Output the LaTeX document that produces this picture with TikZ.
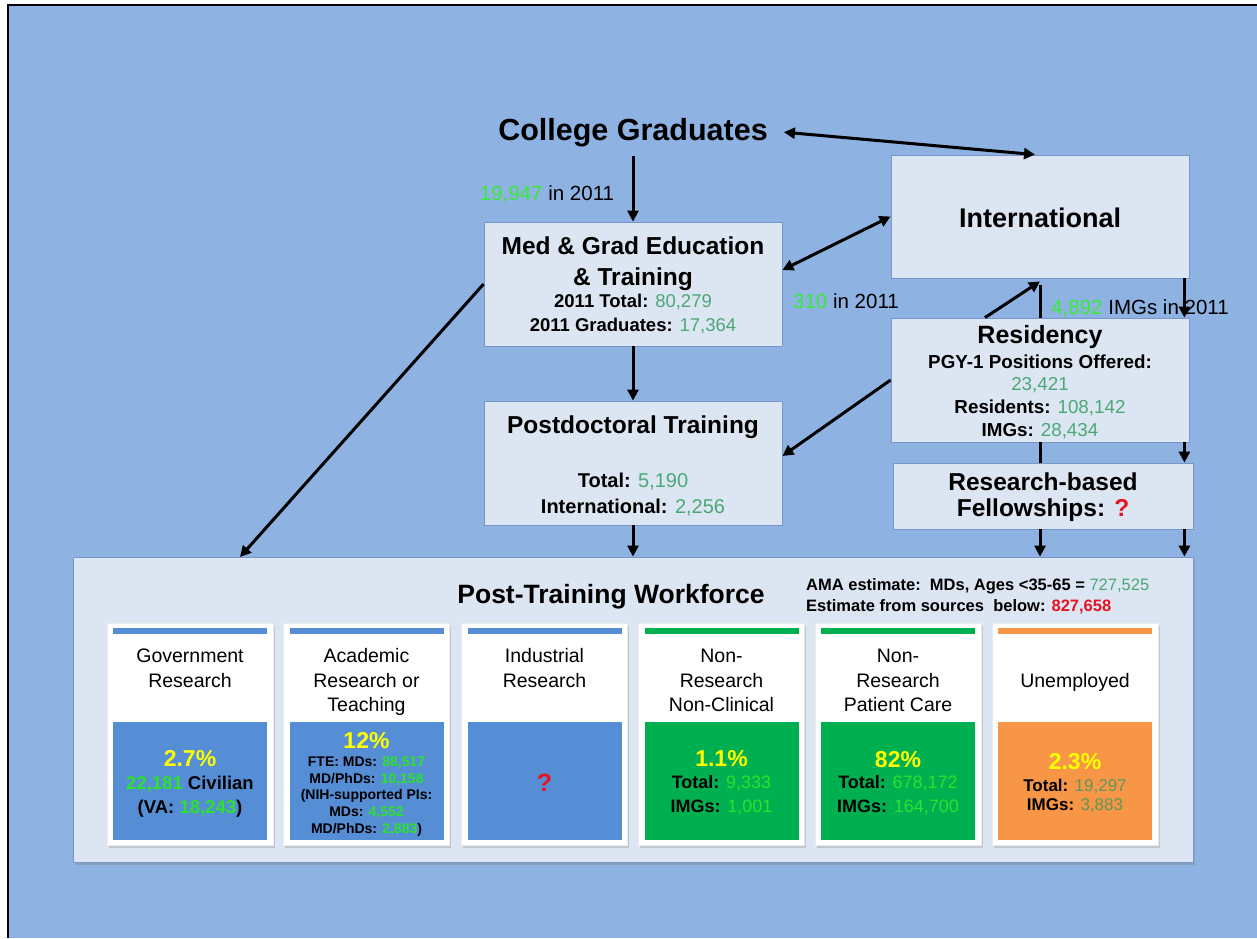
\documentclass[tikz,border=0pt]{standalone}
\usepackage{fontspec}
\setmainfont{Liberation Sans}
\usetikzlibrary{arrows.meta,shadows,calc}
\definecolor{bgblue}{RGB}{142,178,225}
\definecolor{boxfill}{RGB}{220,230,242}
\definecolor{boxline}{RGB}{120,150,200}
\definecolor{numteal}{RGB}{75,168,118}
\definecolor{brgreen}{RGB}{55,235,55}
\definecolor{blkgreen}{RGB}{45,225,45}
\definecolor{redq}{RGB}{228,20,35}
\definecolor{yell}{RGB}{255,255,0}
\definecolor{cardblue}{RGB}{85,142,213}
\definecolor{cardgreen}{RGB}{0,176,80}
\definecolor{cardorange}{RGB}{247,150,70}
\definecolor{mutegreen}{RGB}{95,150,90}
\newcommand\fsz[1]{\fontsize{#1}{#1}\selectfont}
\begin{document}
\begin{tikzpicture}[x=1pt,y=-1pt,
  box/.style={draw=boxline, fill=boxfill, line width=0.8pt, inner sep=0pt},
  arr/.style={line width=3pt, -{Triangle[length=11pt,width=11pt]}},
  darr/.style={line width=3pt, {Triangle[length=11pt,width=11pt]}-{Triangle[length=11pt,width=11pt]}},
  plainline/.style={line width=3pt},
  txt/.style={anchor=base, inner sep=0pt, text=black},
  cardbox/.style={fill=white, draw=black!8, line width=0.5pt, minimum width=166pt, minimum height=222pt, inner sep=0pt,
    drop shadow={shadow xshift=1.5pt, shadow yshift=-2.5pt, opacity=0.3}},
  bar/.style={minimum width=154pt, minimum height=6pt, inner sep=0pt},
  block/.style={minimum width=154pt, minimum height=118pt, inner sep=0pt},
]
\useasboundingbox (0,0) rectangle (1257,938);
\fill[white] (0,0) rectangle (1257,938);
\fill[bgblue] (8,5) rectangle (1257,938);
\draw[line width=2.5pt] (8,938) -- (8,5) -- (1257,5);

% main boxes
\node[box, minimum width=298pt, minimum height=124pt] (med) at (633,284) {};
\node[box, minimum width=298pt, minimum height=123pt] (intl) at (1040,216.5) {};
\node[box, minimum width=298pt, minimum height=124pt] (res) at (1040,380) {};
\node[box, minimum width=298pt, minimum height=124pt] (pd) at (633,463) {};
\node[box, minimum width=300pt, minimum height=66pt] (fel) at (1043,496) {};
\node[box, minimum width=1120pt, minimum height=305pt,
  drop shadow={shadow xshift=2pt, shadow yshift=-3pt, opacity=0.35}] (ptw) at (633,709.5) {};

% texts
\node[txt, font=\bfseries\fsz{30.5}, inner xsep=16pt, inner ysep=9pt] (colg) at (633,140) {College Graduates};
\node[txt, font=\fsz{20.5}] (lbl1) at (547,200) {{\color{brgreen}19,947} in 2011};
\node[txt, font=\fsz{20.5}] (lbl2) at (846,308) {{\color{brgreen}310} in 2011};
\node[txt, font=\fsz{20.5}] (lbl3) at (1140,314) {{\color{brgreen}4,892} IMGs in 2011};

\node[txt, font=\bfseries\fsz{24.5}] (medt1) at (633,254) {Med \& Grad Education};
\node[txt, font=\bfseries\fsz{24.5}] (medt2) at (633,285) {\& Training};
\node[txt, font=\bfseries\fsz{18.5}] (medt3) at (633,307) {2011 Total: {\mdseries\color{numteal}80,279}};
\node[txt, font=\bfseries\fsz{18.5}] (medt4) at (633,331) {2011 Graduates: {\mdseries\color{numteal}17,364}};

\node[txt, font=\bfseries\fsz{27}] (intlt) at (1040,227) {International};

\node[txt, font=\bfseries\fsz{25}] (rest1) at (1040,343) {Residency};
\node[txt, font=\bfseries\fsz{18.8}] (rest2) at (1040,368) {PGY-1 Positions Offered:};
\node[txt, font=\fsz{18.8}, text=numteal] (rest3) at (1040,390) {23,421};
\node[txt, font=\bfseries\fsz{18.8}] (rest4) at (1040,413) {Residents: {\mdseries\color{numteal}108,142}};
\node[txt, font=\bfseries\fsz{18.8}] (rest5) at (1040,436) {IMGs: {\mdseries\color{numteal}28,434}};

\node[txt, font=\bfseries\fsz{24.5}] (pdt1) at (633,433) {Postdoctoral Training};
\node[txt, font=\bfseries\fsz{20}] (pdt2) at (633,487) {Total: {\mdseries\color{numteal}5,190}};
\node[txt, font=\bfseries\fsz{20}] (pdt3) at (633,513) {International: {\mdseries\color{numteal}2,256}};

\node[txt, font=\bfseries\fsz{24.5}] (felt1) at (1043,490) {Research-based};
\node[txt, font=\bfseries\fsz{24.5}] (felt2) at (1043,516) {Fellowships: {\color{redq}?}};

\node[txt, font=\bfseries\fsz{26.5}] (ptwt) at (611,603) {Post-Training Workforce};
\node[txt, anchor=base west, font=\bfseries\fsz{16.5}] (ama1) at (806,590) {AMA estimate:\ \ MDs, Ages <35-65 = {\mdseries\color{numteal}727,525}};
\node[txt, anchor=base west, font=\bfseries\fsz{16.5}] (ama2) at (806,611) {Estimate from sources\ \ below: {\color{redq}827,658}};

% cards
\foreach \i/\cx/\col in {1/190/cardblue, 2/366.5/cardblue, 3/544.5/cardblue, 4/721.5/cardgreen, 5/898/cardgreen, 6/1075/cardorange}{
  \node[cardbox] (card\i) at (\cx,734) {};
  \node[bar, fill=\col] (bar\i) at (\cx,631) {};
  \node[block, fill=\col] (blk\i) at (\cx,781) {};
}

% card titles
\begin{scope}[every node/.style={txt, font=\fsz{19.5}}]
\node (c1a) at (190,662) {Government};
\node (c1b) at (190,687) {Research};
\node (c2a) at (366.5,662) {Academic};
\node (c2b) at (366.5,687) {Research or};
\node (c2c) at (366.5,711) {Teaching};
\node (c3a) at (544.5,662) {Industrial};
\node (c3b) at (544.5,687) {Research};
\node (c4a) at (721.5,662) {Non-};
\node (c4b) at (721.5,687) {Research};
\node (c4c) at (721.5,711) {Non-Clinical};
\node (c5a) at (898,662) {Non-};
\node (c5b) at (898,687) {Research};
\node (c5c) at (898,711) {Patient Care};
\node (c6a) at (1075,687) {Unemployed};
\end{scope}

% card values
\node[txt, font=\bfseries\fsz{23}, text=yell] (v1a) at (190,766) {2.7\%};
\node[txt, font=\bfseries\fsz{18.5}] (v1b) at (190,789) {{\color{blkgreen}22,181} Civilian};
\node[txt, font=\bfseries\fsz{18.5}] (v1c) at (190,813) {(VA: {\color{blkgreen}18,243})};

\node[txt, font=\bfseries\fsz{23}, text=yell] (v2a) at (366.5,748) {12\%};
\node[txt, font=\bfseries\fsz{14}] (v2b) at (366.5,766) {FTE: MDs: {\color{blkgreen}88,517}};
\node[txt, font=\bfseries\fsz{14}] (v2c) at (366.5,783) {MD/PhDs: {\color{blkgreen}10,158}};
\node[txt, font=\bfseries\fsz{14}] (v2d) at (366.5,799.5) {(NIH-supported PIs:};
\node[txt, font=\bfseries\fsz{14}] (v2e) at (366.5,816.5) {MDs: {\color{blkgreen}4,552}};
\node[txt, font=\bfseries\fsz{14}] (v2f) at (366.5,833) {MD/PhDs: {\color{blkgreen}2,883})};

\node[txt, font=\bfseries\fsz{25}, text=redq] (v3a) at (544.5,791) {?};

\node[txt, font=\bfseries\fsz{23}, text=yell] (v4a) at (721.5,766) {1.1\%};
\node[txt, font=\bfseries\fsz{18}] (v4b) at (721.5,788) {Total: {\color{blkgreen}\mdseries 9,333}};
\node[txt, font=\bfseries\fsz{18}] (v4c) at (721.5,812) {IMGs: {\color{blkgreen}\mdseries 1,001}};

\node[txt, font=\bfseries\fsz{23}, text=yell] (v5a) at (898,767) {82\%};
\node[txt, font=\bfseries\fsz{18}] (v5b) at (898,788) {Total: {\color{blkgreen}\mdseries 678,172}};
\node[txt, font=\bfseries\fsz{18}] (v5c) at (898,812) {IMGs: {\color{blkgreen}\mdseries 164,700}};

\node[txt, font=\bfseries\fsz{23}, text=yell] (v6a) at (1075,769) {2.3\%};
\node[txt, font=\bfseries\fsz{17}] (v6b) at (1075,791) {Total: {\color{mutegreen}\mdseries 19,297}};
\node[txt, font=\bfseries\fsz{17}] (v6c) at (1075,810) {IMGs: {\color{mutegreen}\mdseries 3,883}};

% connectors
\coordinate (rx) at ([xshift=-5pt]res.south east);
\coordinate (ix) at ([xshift=-5pt]intl.south east);
\coordinate (ptwin) at (240,557);
\draw[darr] (colg.east) -- ([xshift=-5pt]intl.north);
\draw[arr] (colg.south) -- (med.north);
\draw[darr] ([yshift=14pt]med.east) -- (intl.west);
\draw[arr] (med.south) -- (pd.north);
\draw[arr] (res.west) -- ([yshift=7pt]pd.east);
\draw[arr] ([xshift=-55pt]res.north) -- ([yshift=-3pt]intl.south);
\draw[plainline] ([yshift=-7pt]intl.south) -- (res.north);
\draw[arr] (ix) -- (ix |- res.north);
\draw[plainline] (res.south) -- (res.south |- fel.north);
\draw[arr] (rx) -- (rx |- fel.north);
\draw[arr] (res.south |- fel.south) -- (res.south |- ptw.north);
\draw[arr] (rx |- fel.south) -- (rx |- ptw.north);
\draw[arr] (med.west) -- (ptwin);
\draw[arr] (pd.south) -- (pd.south |- ptw.north);
\end{tikzpicture}
\end{document}
